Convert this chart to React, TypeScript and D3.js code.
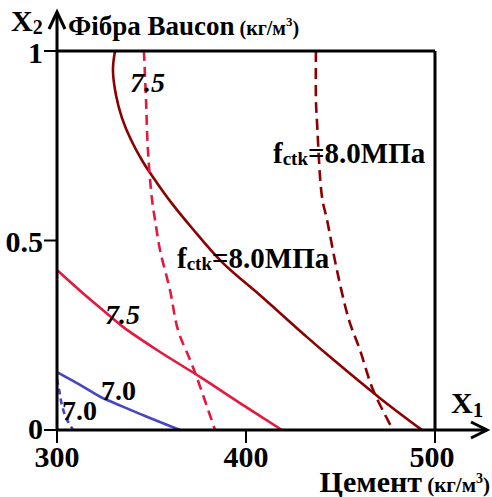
import React from "react";
import * as d3 from "d3";

// Ticks
const xTicks = [300, 400, 500];
const yTicks = [0, 0.5, 1];
const yTickLabels = ["0", "0.5", "1"];

// Contour series: [X1 (cement, kg/m3), X2 (fibre, normalised)]
const dark80Solid: [number, number][] = [
  [330.7, 1.0], [329.6, 0.95], [331.2, 0.884], [334.4, 0.823], [339.2, 0.765],
  [345.5, 0.707], [352.9, 0.652], [361.4, 0.594], [371.4, 0.533], [387.3, 0.443],
  [408.5, 0.351], [432.3, 0.245], [444.4, 0.193], [470.9, 0.084], [493.1, 0.0],
];
const dark80Dashed: [number, number][] = [
  [437.0, 1.0], [437.0, 0.871], [437.6, 0.81], [440.2, 0.615], [442.9, 0.554],
  [448.1, 0.422], [454.5, 0.29], [460.3, 0.211], [467.2, 0.106], [477.8, 0.0],
];
const red75Dashed: [number, number][] = [
  [346.0, 1.0], [347.1, 0.871], [348.1, 0.739], [350.3, 0.607], [351.9, 0.554],
  [354.5, 0.475], [359.8, 0.369], [364.0, 0.264], [370.4, 0.185], [374.1, 0.137],
  [383.6, 0.0],
];
const red75Solid: [number, number][] = [
  [300, 0.422], [314.8, 0.356], [329.1, 0.296], [334.9, 0.272], [352.9, 0.211],
  [375.7, 0.14], [396.8, 0.071], [419.0, 0.0],
];
const blue70Solid: [number, number][] = [
  [300, 0.153], [312.2, 0.119], [324.3, 0.084], [329.1, 0.074], [346.6, 0.037],
  [365.1, 0.0],
];
const blue70Dashed: [number, number][] = [
  [300, 0.135], [301.1, 0.106], [302.6, 0.066], [304.8, 0.032], [308.5, 0.0],
];

const DARK = "#8B0000";
const RED = "#E3193F";
const BLUE = "#4646C4";

const series = [
  { data: dark80Solid, color: DARK, dash: "none" },
  { data: dark80Dashed, color: DARK, dash: "11,6" },
  { data: red75Solid, color: RED, dash: "none" },
  { data: red75Dashed, color: RED, dash: "10,6" },
  { data: blue70Solid, color: BLUE, dash: "none" },
  { data: blue70Dashed, color: BLUE, dash: "6,4" },
];

const FONT = "'Liberation Serif', 'Times New Roman', Times, serif";

export default function App() {
  const W = 492, H = 497;
  const x = d3.scaleLinear().domain([300, 500]).range([57, 435]);
  const y = d3.scaleLinear().domain([0, 1]).range([430, 51]);
  const line = d3
    .line<[number, number]>()
    .x((d) => x(d[0]))
    .y((d) => y(d[1]))
    .curve(d3.curveCatmullRom.alpha(0.5));

  const x0 = x(300), y0 = y(0);
  const ts: React.CSSProperties = { fontFamily: FONT, fontWeight: 700 };

  return (
    <svg
      width={W}
      height={H}
      style={{ position: "absolute", left: 0, top: 0, background: "#fff" }}
    >
      <rect width={W} height={H} fill="#fff" />
      {/* curves */}
      {series.map((s, i) => (
        <path
          key={i}
          d={line(s.data) || ""}
          fill="none"
          stroke={s.color}
          strokeWidth={2.6}
          strokeDasharray={s.dash}
        />
      ))}
      {/* frame */}
      <line x1={x0} y1={y(1)} x2={x(500)} y2={y(1)} stroke="#000" strokeWidth={3} />
      <line x1={x(500)} y1={y(1)} x2={x(500)} y2={y0} stroke="#000" strokeWidth={3} />
      {/* axes with arrows */}
      <line x1={x0} y1={y0} x2={487} y2={y0} stroke="#000" strokeWidth={3} />
      <polyline points={`${471},${y0 - 8} 487,${y0} ${471},${y0 + 8}`} fill="none" stroke="#000" strokeWidth={3} />
      <line x1={x0} y1={y0} x2={x0} y2={12} stroke="#000" strokeWidth={3} />
      <polyline points={`${x0 - 8},29 ${x0},12 ${x0 + 8},29`} fill="none" stroke="#000" strokeWidth={3} />
      {/* ticks */}
      {xTicks.map((t) => (
        <g key={t}>
          <line x1={x(t)} y1={y0} x2={x(t)} y2={y0 + 13} stroke="#000" strokeWidth={2} />
          <text style={ts} x={x(t) - (t === 500 ? 3 : 0)} y={467} textAnchor="middle" fontSize={30}>
            {t}
          </text>
        </g>
      ))}
      {yTicks.map((t, i) => (
        <g key={t}>
          <line x1={x0 - 13} y1={y(t)} x2={x0} y2={y(t)} stroke="#000" strokeWidth={2} />
          <text style={ts} x={43} y={y(t) + (t === 0 ? 9 : t === 1 ? 12 : 11)} textAnchor="end" fontSize={30}>
            {yTickLabels[i]}
          </text>
        </g>
      ))}
      {/* axis titles */}
      <text style={ts} x={11} y={31} fontSize={30}>
        X<tspan fontSize={20} dy={3}>2</tspan>
      </text>
      <text style={ts} x={68} y={35} fontSize={27}>
        Фібра Baucon
        <tspan fontSize={20}> (кг/м</tspan>
        <tspan fontSize={13} dy={-9}>3</tspan>
        <tspan fontSize={20} dy={9}>)</tspan>
      </text>
      <text style={ts} x={451} y={413} fontSize={30}>
        X<tspan fontSize={21} dy={4}>1</tspan>
      </text>
      <text style={ts} x={490} y={492} fontSize={30} textAnchor="end">
        Цемент
        <tspan fontSize={21}> (кг/м</tspan>
        <tspan fontSize={14} dy={-9}>3</tspan>
        <tspan fontSize={21} dy={9}>)</tspan>
      </text>
      {/* contour labels */}
      <text style={ts} x={130} y={92} fontSize={28} fontStyle="italic">7.5</text>
      <text style={ts} x={105} y={324} fontSize={28} fontStyle="italic">7.5</text>
      <text style={ts} x={101} y={400} fontSize={28}>7.0</text>
      <text style={ts} x={62} y={420} fontSize={28}>7.0</text>
      <text style={ts} x={177} y={268} fontSize={29}>
        f<tspan fontSize={19} dy={2}>ctk</tspan>
        <tspan dy={-2}>=8.0МПа</tspan>
      </text>
      <text style={ts} x={273} y={163} fontSize={29}>
        f<tspan fontSize={19} dy={2}>ctk</tspan>
        <tspan dy={-2}>=8.0МПа</tspan>
      </text>
    </svg>
  );
}
